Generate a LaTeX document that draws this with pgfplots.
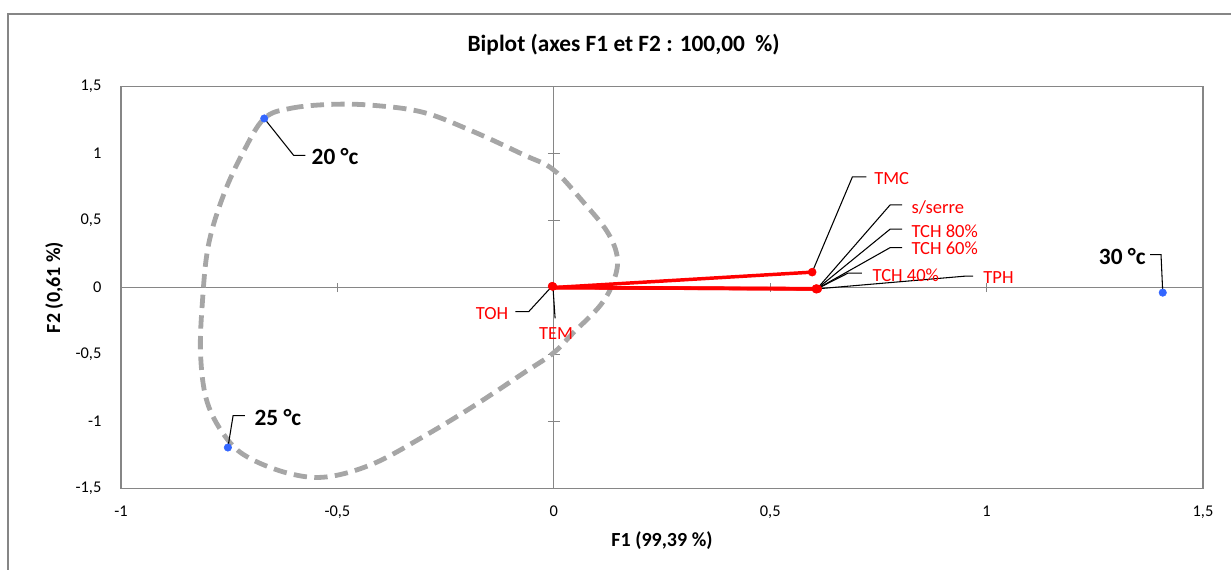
\documentclass[border=0pt]{standalone}
\usepackage{fontspec}
\setmainfont{Carlito}
\usepackage{pgfplots}
\pgfplotsset{compat=1.18}

\definecolor{axgray}{RGB}{134,134,134}
\definecolor{curvegray}{RGB}{166,166,166}
\definecolor{ptblue}{RGB}{51,102,255}
\definecolor{varred}{RGB}{255,0,0}

\newcommand\varfont{\fontsize{13.9}{16}\selectfont}
\newcommand\obsfont{\bfseries\fontsize{17.5}{20}\selectfont}

\begin{document}
\begin{tikzpicture}
  \begin{axis}[
    scale only axis,
    width=811.5pt, height=301.2pt,
    xmin=-1, xmax=1.5, ymin=-1.5, ymax=1.5,
    xtick={-1,-0.5,0,0.5,1,1.5},
    ytick={-1.5,-1,-0.5,0,0.5,1,1.5},
    major tick length=0pt,
    axis line style={axgray, line width=1pt},
    /pgf/number format/use comma,
    /pgf/number format/assume math mode=true,
    ticklabel style={font=\fontsize{12.3}{14}\selectfont},
    xticklabel style={anchor=north, inner sep=0pt, yshift=-13.2pt},
    yticklabel style={anchor=east, inner sep=0pt, xshift=-14.5pt},
    clip=false,
  ]
    %% axis lines through the origin
    \draw[axgray, line width=1pt] (axis cs:-1,0) -- (axis cs:1.5,0);
    \draw[axgray, line width=1pt] (axis cs:0,-1.5) -- (axis cs:0,1.5);
    \pgfplotsinvokeforeach{-1,-0.5,0.5,1}{
      \draw[axgray, line width=1pt] ([yshift=-3.5pt]axis cs:#1,0) -- ([yshift=3.5pt]axis cs:#1,0);
    }
    \pgfplotsinvokeforeach{-1.5,-1,-0.5,0.5,1,1.5}{
      \draw[axgray, line width=1pt] ([xshift=-4.5pt]axis cs:0,#1) -- ([xshift=4.5pt]axis cs:0,#1);
    }

    %% dashed group contour
    \addplot[curvegray, line width=3.6pt, dash pattern=on 10pt off 5.5pt,
             smooth cycle, tension=0.6, mark=none]
      coordinates {
        (-0.669,1.263) (-0.609,1.338) (-0.516,1.368) (-0.417,1.361) (-0.301,1.308)
        (-0.186,1.165) (-0.070,0.992) (-0.001,0.880) (0.068,0.639) (0.124,0.414)
        (0.147,0.218) (0.137,0.038) (0.107,-0.135) (0.045,-0.338) (-0.001,-0.489)
        (-0.070,-0.639) (-0.186,-0.887) (-0.301,-1.113) (-0.417,-1.316) (-0.523,-1.414)
        (-0.609,-1.391) (-0.701,-1.278) (-0.754,-1.135) (-0.800,-0.865) (-0.816,-0.511)
        (-0.812,-0.113) (-0.798,0.316) (-0.763,0.692) (-0.717,1.015)
      };

    %% variable vectors
    \addplot[varred, line width=2.6pt, mark=none] coordinates {(0,0) (0.597,0.115)};
    \addplot[varred, line width=2.6pt, mark=none] coordinates {(0,0) (0.606,-0.008)};
    \addplot[varred, line width=2.6pt, mark=none] coordinates {(0,0) (0.608,-0.011)};
    \addplot[varred, line width=2.6pt, mark=none] coordinates {(0,0) (0.610,-0.010)};
    \addplot[varred, only marks, mark=*, mark size=3pt]
      coordinates {(-0.004,0.010) (-0.002,0.008) (0.597,0.115) (0.606,-0.008)
                   (0.607,-0.010) (0.608,-0.011) (0.606,-0.012) (0.610,-0.010)};

    %% observations
    \addplot[ptblue, only marks, mark=*, mark size=2.8pt]
      coordinates {(-0.669,1.263) (-0.753,-1.195) (1.407,-0.038)};

    %% leader lines
    \addplot[black, line width=0.8pt, mark=none] coordinates {(0.597,0.115) (0.690,0.827) (0.722,0.827)};
    \addplot[black, line width=0.8pt, mark=none] coordinates {(0.608,-0.010) (0.777,0.617) (0.805,0.617)};
    \addplot[black, line width=0.8pt, mark=none] coordinates {(0.608,-0.010) (0.777,0.436) (0.805,0.436)};
    \addplot[black, line width=0.8pt, mark=none] coordinates {(0.608,-0.010) (0.777,0.298) (0.805,0.298)};
    \addplot[black, line width=0.8pt, mark=none] coordinates {(0.608,-0.010) (0.680,0.108) (0.712,0.108)};
    \addplot[black, line width=0.8pt, mark=none] coordinates {(0.608,-0.010) (0.950,0.085) (0.969,0.085)};
    \addplot[black, line width=0.8pt, mark=none] coordinates {(-0.004,0.010) (-0.058,-0.180) (-0.089,-0.180)};
    \addplot[black, line width=0.8pt, mark=none] coordinates {(-0.002,0.008) (0.003,-0.231)};
    \addplot[black, line width=0.8pt, mark=none] coordinates {(-0.669,1.263) (-0.601,0.987) (-0.574,0.987)};
    \addplot[black, line width=0.8pt, mark=none] coordinates {(-0.753,-1.195) (-0.741,-0.957) (-0.714,-0.957)};
    \addplot[black, line width=0.8pt, mark=none] coordinates {(1.407,-0.038) (1.403,0.246) (1.378,0.246)};

    %% labels
    \node[anchor=west, inner sep=0pt, text=varred, font=\varfont] at (axis cs:0.740,0.812) {TMC};
    \node[anchor=west, inner sep=0pt, text=varred, font=\varfont] at (axis cs:0.826,0.600) {s/serre};
    \node[anchor=west, inner sep=0pt, text=varred, font=\varfont] at (axis cs:0.826,0.423) {TCH 80\%};
    \node[anchor=west, inner sep=0pt, text=varred, font=\varfont] at (axis cs:0.826,0.291) {TCH 60\%};
    \node[anchor=west, inner sep=0pt, text=varred, font=\varfont] at (axis cs:0.736,0.095) {TCH 40\%};
    \node[anchor=west, inner sep=0pt, text=varred, font=\varfont] at (axis cs:0.992,0.078) {TPH};
    \node[anchor=east, inner sep=0pt, text=varred, font=\varfont] at (axis cs:-0.105,-0.195) {TOH};
    \node[anchor=center, inner sep=0pt, text=varred, font=\varfont] at (axis cs:0.005,-0.341) {TEM};
    \node[anchor=west, inner sep=0pt, font=\obsfont] at (axis cs:-0.560,0.980) {20 °c};
    \node[anchor=west, inner sep=0pt, font=\obsfont] at (axis cs:-0.692,-0.968) {25 °c};
    \node[anchor=east, inner sep=0pt, font=\obsfont] at (axis cs:1.368,0.233) {30 °c};

    %% titles
    \node[font=\bfseries\fontsize{17.5}{20}\selectfont] at ([xshift=377pt, yshift=31.3pt]rel axis cs:0,1)
      {Biplot (axes F1 et F2 : 100,00~~\%)};
    \node[font=\bfseries\fontsize{15}{18}\selectfont] at ([yshift=-39.5pt]rel axis cs:0.5,0) {F1 (99,39 \%)};
    \node[rotate=90, font=\bfseries\fontsize{15}{18}\selectfont] at ([xshift=-50pt]rel axis cs:0,0.5) {F2 (0,61 \%)};
  \end{axis}

  %% outer chart frame
  \draw[axgray, line width=1pt] (-84.75pt,-70pt) -- (-84.75pt,355.75pt) -- (845pt,355.75pt);
  \pgfresetboundingbox
  \path[use as bounding box] (-90.75pt,-60.5pt) rectangle (832.5pt,366.25pt);
\end{tikzpicture}
\end{document}
